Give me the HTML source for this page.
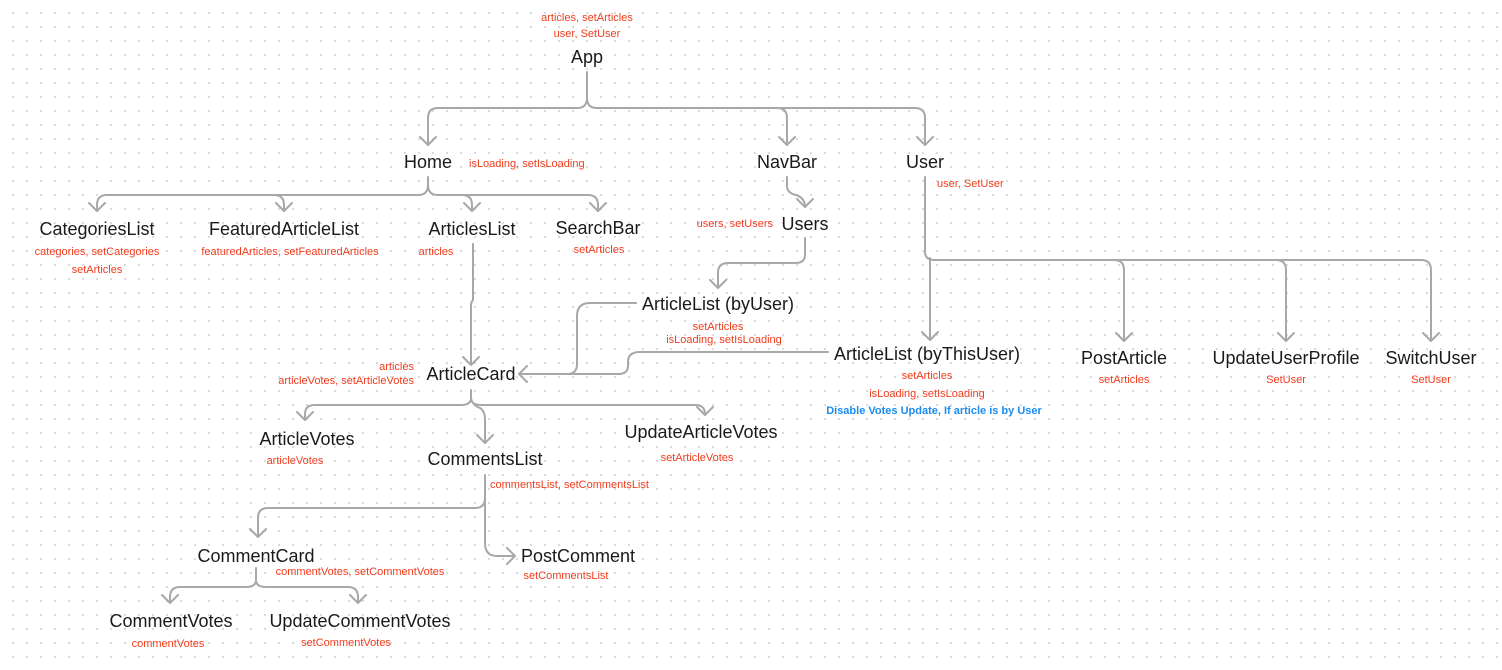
<!DOCTYPE html>
<html><head><meta charset="utf-8"><style>
html,body{margin:0;padding:0;width:1502px;height:670px;overflow:hidden;background:#fff;
background-image:radial-gradient(circle,#d4d4d4 0.8px,transparent 1.2px);background-size:14px 14px;background-position:6px 6px;}
svg{position:absolute;left:0;top:0}
.n{font-family:"Liberation Sans",sans-serif;font-size:18px;fill:#1a1a1a;text-anchor:middle;dominant-baseline:central}
.r{font-family:"Liberation Sans",sans-serif;font-size:11px;fill:#f03c1e;text-anchor:middle;dominant-baseline:central}
.b{font-family:"Liberation Sans",sans-serif;font-size:11px;fill:#1a8cf0;font-weight:bold;text-anchor:middle;dominant-baseline:central}
path{fill:none;stroke:#a8a8a8;stroke-width:2;stroke-linecap:round;stroke-linejoin:round}
</style></head><body>
<svg width="1502" height="670" viewBox="0 0 1502 670">
<!-- App -->
<path d="M587 72 V98 Q587 108 577 108 H438 Q428 108 428 118 V145"/>
<path d="M587 98 Q587 108 597 108 H915 Q925 108 925 118 V145 M777 108 Q787 108 787 118 V145"/>
<path d="M420 137 L428 145 L436 137 M779 137 L787 145 L795 137 M917 137 L925 145 L933 137"/>
<!-- Home -->
<path d="M428 177 V185 Q428 195 418 195 H107 Q97 195 97 205 V211 M428 185 Q428 195 438 195 H588 Q598 195 598 205 V211 M274 195 Q284 195 284 205 V211 M462 195 Q472 195 472 205 V211"/>
<path d="M89 203 L97 211 L105 203 M276 203 L284 211 L292 203 M464 203 L472 211 L480 203 M590 203 L598 211 L606 203"/>
<!-- NavBar -> Users -->
<path d="M787 177 V186 Q787 193 796 195 Q805 198 805 207"/>
<path d="M797 199 L805 207 L813 199"/>
<!-- Users -> ArticleList byUser -->
<path d="M805 238 V255 Q805 263 795 263 H728 Q718 263 718 273 V288 M710 280 L718 288 L726 280"/>
<!-- ArticlesList -> ArticleCard -->
<path d="M473 244 V300 Q471 302 471 306 V365 M463 357 L471 365 L479 357"/>
<!-- byUser -> ArticleCard -->
<path d="M636 303 H590 Q577 303 577 316 V364 Q577 374 567 374 H519 M527 366 L519 374 L527 382"/>
<!-- byThisUser -> ArticleCard -->
<path d="M828 352 H640 Q628 352 628 362 V366 Q628 374 618 374 H567"/>
<!-- ArticleCard children -->
<path d="M471 390 V398 Q471 405 461 405 H315 Q305 405 305 414 V420 M471 398 Q471 405 481 405 H695 Q705 405 705 414 V415 M471 398 Q472 405 480 408 Q485 411 485 420 V443"/>
<path d="M297 412 L305 420 L313 412 M697 407 L705 415 L713 407 M477 435 L485 443 L493 435"/>
<!-- User children -->
<path d="M925 177 V252 Q925 260 935 260 H1114 Q1124 260 1124 270 V341 M1114 260 H1276 Q1286 260 1286 270 V341 M1276 260 H1421 Q1431 260 1431 270 V341 M930 258 V340"/>
<path d="M922 332 L930 340 L938 332 M1116 333 L1124 341 L1132 333 M1278 333 L1286 341 L1294 333 M1423 333 L1431 341 L1439 333"/>
<!-- CommentsList -->
<path d="M485 475 V543 Q485 556 497 556 H515 M507 548 L515 556 L507 564"/>
<path d="M485 498 Q485 508 475 508 H268 Q258 508 258 518 V537 M250 529 L258 537 L266 529"/>
<!-- CommentCard -->
<path d="M256 568 V580 Q256 587 246 587 H180 Q170 587 170 597 V603 M256 580 Q256 587 266 587 H348 Q358 587 358 597 V603 M162 595 L170 603 L178 595 M350 595 L358 603 L366 595"/>

<text class="r" x="587" y="18">articles, setArticles</text>
<text class="r" x="587" y="34">user, SetUser</text>
<text class="n" x="587" y="57">App</text>
<text class="n" x="428" y="162">Home</text>
<text class="r" x="469" y="164" style="text-anchor:start">isLoading, setIsLoading</text>
<text class="n" x="787" y="162">NavBar</text>
<text class="n" x="925" y="162">User</text>
<text class="r" x="937" y="184" style="text-anchor:start">user, SetUser</text>
<text class="n" x="97" y="229">CategoriesList</text>
<text class="r" x="97" y="252">categories, setCategories</text>
<text class="r" x="97" y="270">setArticles</text>
<text class="n" x="284" y="229">FeaturedArticleList</text>
<text class="r" x="290" y="252">featuredArticles, setFeaturedArticles</text>
<text class="n" x="472" y="229">ArticlesList</text>
<text class="r" x="436" y="252">articles</text>
<text class="n" x="598" y="228">SearchBar</text>
<text class="r" x="599" y="250">setArticles</text>
<text class="n" x="805" y="224">Users</text>
<text class="r" x="773" y="224" style="text-anchor:end">users, setUsers</text>
<text class="n" x="718" y="304">ArticleList (byUser)</text>
<text class="r" x="718" y="327">setArticles</text>
<text class="r" x="724" y="340">isLoading, setIsLoading</text>
<text class="n" x="927" y="354">ArticleList (byThisUser)</text>
<text class="r" x="927" y="376">setArticles</text>
<text class="r" x="927" y="394">isLoading, setIsLoading</text>
<text class="b" x="934" y="411">Disable Votes Update, If article is by User</text>
<text class="n" x="1124" y="358">PostArticle</text>
<text class="r" x="1124" y="380">setArticles</text>
<text class="n" x="1286" y="358">UpdateUserProfile</text>
<text class="r" x="1286" y="380">SetUser</text>
<text class="n" x="1431" y="358">SwitchUser</text>
<text class="r" x="1431" y="380">SetUser</text>
<text class="n" x="471" y="374">ArticleCard</text>
<text class="r" x="414" y="367" style="text-anchor:end">articles</text>
<text class="r" x="414" y="381" style="text-anchor:end">articleVotes, setArticleVotes</text>
<text class="n" x="307" y="439">ArticleVotes</text>
<text class="r" x="295" y="461">articleVotes</text>
<text class="n" x="701" y="432">UpdateArticleVotes</text>
<text class="r" x="697" y="458">setArticleVotes</text>
<text class="n" x="485" y="459">CommentsList</text>
<text class="r" x="490" y="485" style="text-anchor:start">commentsList, setCommentsList</text>
<text class="n" x="256" y="556">CommentCard</text>
<text class="r" x="360" y="572">commentVotes, setCommentVotes</text>
<text class="n" x="578" y="556">PostComment</text>
<text class="r" x="566" y="576">setCommentsList</text>
<text class="n" x="171" y="621">CommentVotes</text>
<text class="r" x="168" y="644">commentVotes</text>
<text class="n" x="360" y="621">UpdateCommentVotes</text>
<text class="r" x="346" y="643">setCommentVotes</text>
</svg>
</body></html>
